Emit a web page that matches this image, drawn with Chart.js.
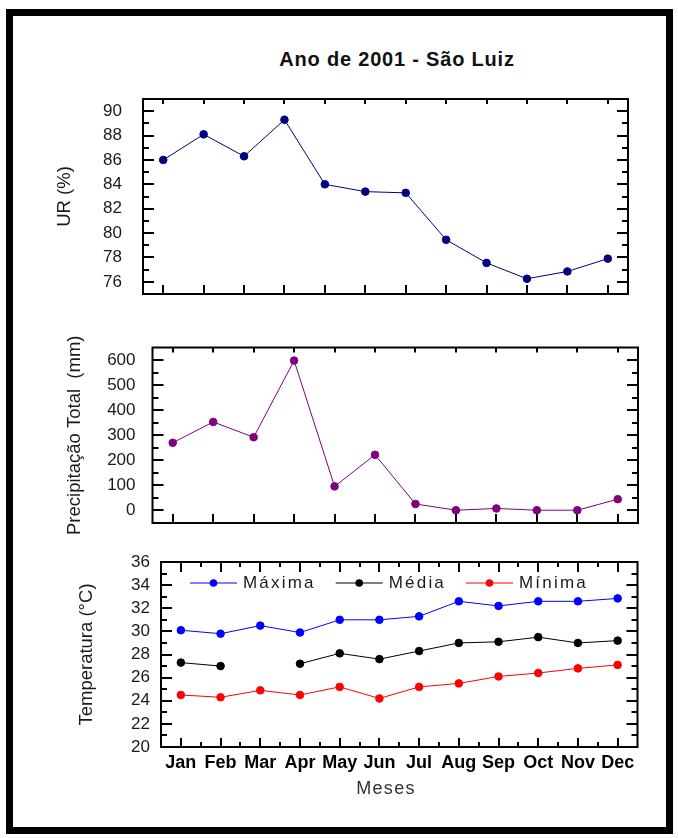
<!DOCTYPE html>
<html>
<head>
<meta charset="utf-8">
<title>Ano de 2001 - São Luiz</title>
<script src="https://cdn.jsdelivr.net/npm/chart.js@4.4.1/dist/chart.umd.min.js"></script>
<style>
  html, body { margin: 0; padding: 0; background: #fff; }
  #page { position: relative; width: 678px; height: 838px; overflow: hidden;
          font-family: "Liberation Sans", Arial, sans-serif; }
  #frame { position: absolute; left: 6px; top: 9px; width: 653px; height: 811px;
           border: 7px solid #000; }
  canvas { position: absolute; left: 0; }
  #title { position: absolute; left: 197px; width: 400px; top: 48px; text-align: center;
           font-weight: bold; font-size: 20px; letter-spacing: 0.8px; color: #111; }
  #meses { position: absolute; left: 286px; width: 200px; top: 778px; text-align: center;
           font-size: 18px; letter-spacing: 1.3px; color: #333; }
</style>
</head>
<body>
<div id="page">
  <div id="frame"></div>
  <canvas id="c1" width="678" height="215" style="top:90px"></canvas>
  <canvas id="c2" width="678" height="222" style="top:324px"></canvas>
  <canvas id="c3" width="678" height="260" style="top:550px"></canvas>
  <div id="title">Ano de 2001 - São Luiz</div>
  <div id="meses">Meses</div>
</div>
<script>
// Monthly climate data, São Luiz, 2001
const months = ['Jan', 'Feb', 'Mar', 'Apr', 'May', 'Jun', 'Jul', 'Aug', 'Sep', 'Oct', 'Nov', 'Dec'];
const umidadeRelativa = [86.0, 88.1, 86.3, 89.3, 84.0, 83.4, 83.3, 79.45, 77.55, 76.25, 76.85, 77.9];
const precipitacaoTotal = [270, 353, 292, 598, 96, 222, 26, 1, 8, 1, 1, 45];
const tempMaxima = [30.1, 29.8, 30.5, 29.9, 31.0, 31.0, 31.3, 32.6, 32.2, 32.6, 32.6, 32.85];
const tempMedia = [27.3, 27.0, null, 27.2, 28.1, 27.6, 28.3, 29.0, 29.1, 29.5, 29.0, 29.2];
const tempMinima = [24.5, 24.3, 24.9, 24.5, 25.2, 24.2, 25.2, 25.5, 26.1, 26.4, 26.8, 27.1];

// Labelled tick values of each vertical axis
const urTicks = [76, 78, 80, 82, 84, 86, 88, 90];
const precTicks = [0, 100, 200, 300, 400, 500, 600];
const tempTicks = [20, 22, 24, 26, 28, 30, 32, 34, 36];

const FONT = '"Liberation Sans", Arial, sans-serif';
const TXT = '#1a1a1a';

// Boxed plot frame with inward-pointing major/minor ticks on all four sides
const frameTicks = {
  id: 'frameTicks',
  afterDatasetsDraw(chart, args, o) {
    const { ctx, chartArea: a, scales: { x, y } } = chart;
    ctx.save();
    ctx.strokeStyle = '#000';
    ctx.lineWidth = 2;
    ctx.beginPath();
    const vals = y.ticks.map(t => t.value);
    const step = vals[1] - vals[0];
    vals.forEach(v => {
      const py = Math.round(y.getPixelForValue(v));
      ctx.moveTo(a.left, py); ctx.lineTo(a.left + o.yMajor, py);
      ctx.moveTo(a.right, py); ctx.lineTo(a.right - o.yMajor, py);
    });
    for (let v = vals[0] - step / 2; v < y.max; v += step) {
      if (v <= y.min || v >= y.max) continue;
      const py = Math.round(y.getPixelForValue(v));
      ctx.moveTo(a.left, py); ctx.lineTo(a.left + o.yMinor, py);
      ctx.moveTo(a.right, py); ctx.lineTo(a.right - o.yMinor, py);
    }
    const n = chart.data.labels.length;
    for (let i = 0; i < n; i++) {
      const px = Math.round(x.getPixelForValue(i));
      ctx.moveTo(px, a.bottom); ctx.lineTo(px, a.bottom - o.xBottom);
      ctx.moveTo(px, a.top); ctx.lineTo(px, a.top + o.xTop);
      if (o.xMinor && i < n - 1) {
        const pm = Math.round(x.getPixelForValue(i + 0.5));
        ctx.moveTo(pm, a.bottom); ctx.lineTo(pm, a.bottom - o.xMinor);
        ctx.moveTo(pm, a.top); ctx.lineTo(pm, a.top + o.xMinor);
      }
    }
    ctx.stroke();
    ctx.strokeRect(a.left, a.top, a.right - a.left, a.bottom - a.top);
    ctx.restore();
  }
};

// Legend drawn inside the plot area: line - dot - line, then the label
const innerLegend = {
  id: 'innerLegend',
  afterDatasetsDraw(chart, args, o) {
    const { ctx, chartArea: a } = chart;
    ctx.save();
    ctx.font = '17px ' + FONT;
    ctx.letterSpacing = '2.2px';
    ctx.textBaseline = 'middle';
    ctx.textAlign = 'left';
    let xPos = a.left + o.startX;
    const yPos = a.top + o.offsetY;
    chart.data.datasets.forEach(ds => {
      ctx.strokeStyle = ds.borderColor;
      ctx.lineWidth = 1;
      ctx.beginPath();
      ctx.moveTo(xPos, yPos); ctx.lineTo(xPos + o.lineLen, yPos);
      ctx.stroke();
      ctx.fillStyle = ds.pointBackgroundColor;
      ctx.beginPath();
      ctx.arc(xPos + o.lineLen / 2, yPos, 3.8, 0, Math.PI * 2);
      ctx.fill();
      ctx.fillStyle = TXT;
      const tx = xPos + o.lineLen + 6;
      ctx.fillText(ds.label, tx, yPos);
      xPos = tx + ctx.measureText(ds.label).width + o.gap;
    });
    ctx.restore();
  }
};

function series(label, data, color) {
  return {
    label, data,
    borderColor: color, backgroundColor: color,
    pointBackgroundColor: color, pointBorderColor: color,
    borderWidth: 1, pointRadius: 3.8, pointHoverRadius: 3.8,
    tension: 0, spanGaps: false, fill: false
  };
}

function yAxis(min, max, tickValues, title, labelPad, width) {
  return {
    type: 'linear', position: 'left', min, max,
    afterBuildTicks: s => { s.ticks = tickValues.map(v => ({ value: v })); },
    afterFit: s => { s.width = width; s.paddingTop = 0; s.paddingBottom = 0; },
    grid: { display: false, drawTicks: false },
    border: { display: false },
    ticks: { padding: labelPad, color: TXT, autoSkip: false,
             font: { family: FONT, size: 17 },
             callback: v => String(v) },
    title: { display: true, text: title, color: TXT, padding: 0,
             font: { family: FONT, size: 18.5 } }
  };
}

const hiddenX = { type: 'category', offset: true, display: false };

const common = {
  responsive: false,
  animation: false,
  devicePixelRatio: 1,
  events: [],
  plugins: { legend: { display: false }, tooltip: { enabled: false } }
};

// Relative humidity
new Chart(document.getElementById('c1'), {
  type: 'line',
  data: { labels: months, datasets: [series('UR (%)', umidadeRelativa, '#000080')] },
  options: {
    ...common,
    layout: { padding: { left: 54, right: 50, top: 9, bottom: 11 } },
    scales: { x: hiddenX, y: yAxis(75, 91, urTicks, 'UR (%)', 21, 89) },
    plugins: { ...common.plugins, frameTicks: { yMajor: 11, yMinor: 6, xTop: 5, xBottom: 9, xMinor: 0 } }
  },
  plugins: [frameTicks]
});

// Total precipitation
new Chart(document.getElementById('c2'), {
  type: 'line',
  data: { labels: months, datasets: [series('Precipitação Total', precipitacaoTotal, '#800080')] },
  options: {
    ...common,
    layout: { padding: { left: 64, right: 40, top: 23.5, bottom: 23 } },
    scales: { x: hiddenX, y: yAxis(-50, 650, precTicks, 'Precipitação Total  (mm)', 17, 88.5) },
    plugins: { ...common.plugins, frameTicks: { yMajor: 11, yMinor: 6, xTop: 5, xBottom: 9, xMinor: 0 } }
  },
  plugins: [frameTicks]
});

// Temperatures
new Chart(document.getElementById('c3'), {
  type: 'line',
  data: {
    labels: months,
    datasets: [
      series('Máxima', tempMaxima, '#0000ff'),
      series('Média', tempMedia, '#000000'),
      series('Mínima', tempMinima, '#ff0000')
    ]
  },
  options: {
    ...common,
    layout: { padding: { left: 76, right: 40.5, top: 12, bottom: 0 } },
    scales: {
      x: {
        type: 'category', offset: true, position: 'bottom',
        afterFit: s => { s.height = 63; s.paddingLeft = 0; s.paddingRight = 0; },
        grid: { display: false, drawTicks: false },
        border: { display: false },
        ticks: { padding: 5, color: '#000', maxRotation: 0, autoSkip: false,
                 font: { family: FONT, size: 18, weight: 'bold' } }
      },
      y: yAxis(20, 36, tempTicks, 'Temperatura (°C)', 11, 85)
    },
    plugins: {
      ...common.plugins,
      frameTicks: { yMajor: 11, yMinor: 6, xTop: 10, xBottom: 9, xMinor: 5 },
      innerLegend: { startX: 29, offsetY: 21, lineLen: 47, gap: 20 }
    }
  },
  plugins: [frameTicks, innerLegend]
});
</script>
</body>
</html>
